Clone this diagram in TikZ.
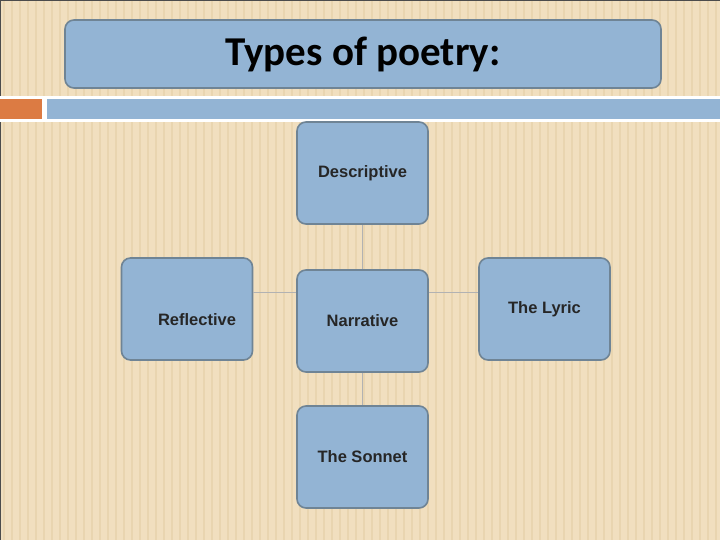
\documentclass[tikz,border=0pt]{standalone}
\usepackage{fontspec}
\setmainfont{Liberation Sans}
\newfontfamily\titlefont{Carlito}
\definecolor{bg}{HTML}{F1DFBF}
\definecolor{stripe}{HTML}{E9D5B0}
\definecolor{boxfill}{HTML}{93B4D4}
\definecolor{boxline}{HTML}{6F8495}
\definecolor{orng}{HTML}{DC7B43}
\tikzset{
  item/.style={draw=boxline, line width=1.6pt, fill=boxfill, rounded corners=9pt, minimum width=131pt, minimum height=102pt, inner sep=0pt, font=\bfseries\fontsize{16.5}{18}\selectfont, text=black!85},
  conn/.style={draw=gray!60, line width=0.7pt}
}
\begin{document}
\begin{tikzpicture}[x=1pt,y=-1pt]
\useasboundingbox (0,0) rectangle (720,540);
\fill[bg] (0,0) rectangle (720,540);
\foreach \i in {0,...,89} {\fill[stripe] (\i*8+3,0) rectangle (\i*8+5,540);}
\draw[gray!60!black, line width=1pt] (0,540) -- (0,0.5) -- (720,0.5);
\fill[white] (0,96) rectangle (720,122);
\fill[orng] (0,99) rectangle (42,119);
\fill[boxfill] (47,99) rectangle (720,119);
\node[draw=boxline, line width=1.6pt, fill=boxfill, rounded corners=9pt, minimum width=596pt, minimum height=68pt] (title) at (363,54) {};
\node[font=\titlefont\bfseries\fontsize{41}{45}\selectfont] (tt) at (363,54) {Types of poetry:};
\node[item] (desc) at (362.5,173) {Descriptive};
\node[item, label={[font=\bfseries\fontsize{16.5}{18}\selectfont, text=black!85, xshift=10pt, yshift=-11pt]center:Reflective}] (refl) at (187,309) {};
\node[item] (narr) at (362.5,321) {Narrative};
\node[item] (lyr) at (544.5,309) {The Lyric};
\node[item] (son) at (362.5,457) {The Sonnet};
\draw[conn] (desc.south) -- (narr.north);
\draw[conn] (narr.south) -- (son.north);
\draw[conn] ([yshift=17pt]refl.east) -- (narr.west |- {(0,292)});
\draw[conn] (narr.east |- {(0,292)}) -- ([yshift=17pt]lyr.west);
\end{tikzpicture}
\end{document}
